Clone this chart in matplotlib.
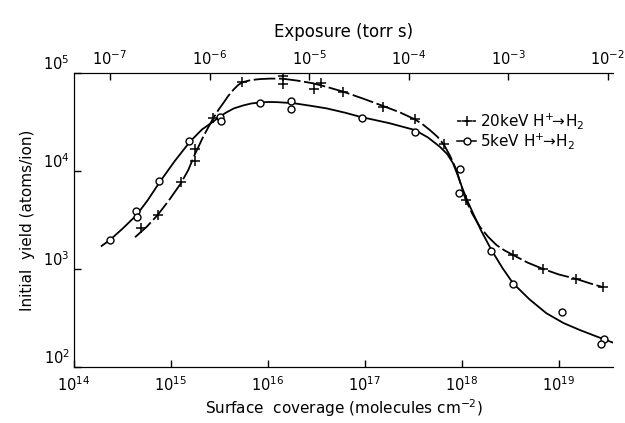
import numpy as np
import matplotlib.pyplot as plt
from matplotlib.lines import Line2D

plt.rcParams['font.family'] = ['DejaVu Sans']
plt.rcParams['mathtext.fontset'] = 'dejavusans'

# measured points, 5 keV H+ -> H2 (circles)
cov_5 = [2.35e14, 4.36e14, 4.50e14, 7.46e14, 1.55e15, 3.20e15, 3.30e15, 8.28e15,
         1.73e16, 1.73e16, 9.25e16, 3.27e17, 9.53e17, 9.38e17, 2.02e18, 3.38e18,
         1.08e19, 2.91e19, 2.75e19]
yld_5 = [1980, 3930, 3410, 7930, 2.01e4, 3.55e4, 3.24e4, 4.93e4,
         5.13e4, 4.23e4, 3.42e4, 2.46e4, 1.04e4, 5980, 1530, 700,
         369, 196, 173]

# measured points, 20 keV H+ -> H2 (crosses)
cov_20 = [4.91e14, 7.29e14, 1.27e15, 1.75e15, 1.75e15, 2.73e15, 5.43e15, 1.42e16,
          1.42e16, 2.98e16, 3.57e16, 5.97e16, 1.55e17, 3.27e17, 6.58e17, 1.10e18,
          3.38e18, 6.89e18, 1.52e19, 2.86e19]
yld_20 = [2640, 3550, 7640, 1.26e4, 1.66e4, 3.42e4, 7.94e4, 9.20e4,
          7.64e4, 6.75e4, 7.76e4, 6.38e4, 4.49e4, 3.34e4, 1.86e4, 5050,
          1390, 1000, 792, 653]

# hand-drawn curves (log10 values)
curve5_logc = [14.285, 14.371, 14.5, 14.646, 14.76, 14.887, 15.04, 15.196, 15.32, 15.436,
               15.5, 15.574, 15.65, 15.746, 15.83, 15.918, 16.0, 16.1, 16.261, 16.45,
               16.605, 16.8, 16.948, 17.25, 17.515, 17.65, 17.773, 17.85, 17.91, 17.96,
               18.013, 18.06, 18.116, 18.2, 18.306, 18.42, 18.529, 18.7, 18.873, 19.05,
               19.216, 19.4, 19.56]
curve5_logy = [3.235, 3.296, 3.41, 3.55, 3.70, 3.889, 4.10, 4.296, 4.42, 4.50,
               4.55, 4.595, 4.635, 4.665, 4.685, 4.695, 4.70, 4.698, 4.688, 4.66,
               4.635, 4.59, 4.55, 4.485, 4.415, 4.34, 4.245, 4.17, 4.076, 3.95,
               3.805, 3.69, 3.568, 3.39, 3.194, 3.01, 2.855, 2.69, 2.55, 2.45,
               2.38, 2.31, 2.251]
curve20_logc = [14.629, 14.75, 14.863, 14.98, 15.103, 15.18, 15.244, 15.333, 15.436,
                15.49, 15.539, 15.59, 15.642, 15.69, 15.735, 15.82, 15.918, 16.03,
                16.151, 16.3, 16.467, 16.62, 16.776, 16.98, 17.189, 17.36, 17.515,
                17.6, 17.67, 17.75, 17.818, 17.88, 17.945, 17.99, 18.041, 18.11,
                18.186, 18.27, 18.357, 18.44, 18.529, 18.68, 18.838, 19.0, 19.182,
                19.32, 19.457]
curve20_logy = [3.323, 3.43, 3.55, 3.70, 3.873, 4.01, 4.161, 4.347, 4.534,
                4.62, 4.687, 4.76, 4.822, 4.87, 4.90, 4.922, 4.933, 4.938,
                4.937, 4.918, 4.89, 4.85, 4.805, 4.735, 4.659, 4.595, 4.524,
                4.47, 4.415, 4.345, 4.262, 4.15, 4.008, 3.86, 3.703, 3.56,
                3.431, 3.33, 3.245, 3.19, 3.143, 3.065, 3.001, 2.945, 2.899,
                2.855, 2.815]

bottom_ticks = [1e14, 1e15, 1e16, 1e17, 1e18, 1e19]
top_ticks = [1e-7, 1e-6, 1e-5, 1e-4, 1e-3, 1e-2]
y_ticks = [1e2, 1e3, 1e4, 1e5]

p_exp = 0.9739
k_exp = -20.996

fig = plt.figure(figsize=(6.25, 4.23), dpi=100)
ax = fig.add_axes([0.1184, 0.1317, 0.8624, 0.6969])

ax.plot(10 ** np.array(curve5_logc), 10 ** np.array(curve5_logy), color='black', lw=1.3)
ax.plot(10 ** np.array(curve20_logc), 10 ** np.array(curve20_logy), color='black', lw=1.3,
        dashes=(12, 2))
ax.plot(cov_5, yld_5, 'o', mfc='white', mec='black', ms=5, mew=1.0)
ax.plot(cov_20, yld_20, '+', color='black', ms=7, mew=1.1)

xmin, xmax = 1e14, 10 ** 19.56
ax.set_xscale('log')
ax.set_yscale('log')
ax.set_xlim(xmin, xmax)
ax.set_ylim(1e2, 1e5)
ax.set_xticks(bottom_ticks)
ax.set_xticklabels([f'$10^{{{int(np.log10(t))}}}$' for t in bottom_ticks], fontsize=10.5)
ax.set_yticks(y_ticks)
ax.set_yticklabels([f'$10^{{{int(np.log10(t))}}}$' for t in y_ticks], fontsize=10.5,
                   va='bottom')
ax.minorticks_off()
ax.tick_params(direction='in', length=5, width=1)
ax.tick_params(axis='x', pad=6)
ax.tick_params(axis='y', pad=3)
ax.spines['right'].set_visible(False)
ax.set_xlabel('Surface  coverage (molecules cm$^{-2}$)', fontsize=11, labelpad=2)
ax.set_ylabel('Initial  yield (atoms/ion)', fontsize=11, labelpad=6)

top = ax.twiny()
top.set_xscale('log')
top.set_xlim(10 ** (p_exp * np.log10(xmin) + k_exp), 10 ** (p_exp * np.log10(xmax) + k_exp))
top.set_xticks(top_ticks)
top.set_xticklabels([f'$10^{{{int(np.log10(t))}}}$' for t in top_ticks], fontsize=10.5)
top.minorticks_off()
top.tick_params(direction='in', length=5, width=1, pad=3)
top.spines['right'].set_visible(False)
top.set_xlabel('Exposure (torr s)', fontsize=12, labelpad=9)

handles = [
    Line2D([], [], color='black', lw=1.1, marker='+', ms=7, mew=1.1, dashes=(3, 2)),
    Line2D([], [], color='black', lw=1.1, marker='o', mfc='white', mec='black', ms=5),
]
labels = ['20keV H$^{+}\\!\\!\\to\\!$H$_2$', '5keV H$^{+}\\!\\!\\to\\!$H$_2$']
ax.legend(handles, labels, loc='upper left', bbox_to_anchor=(0.69, 0.905), frameon=False,
          fontsize=11, handlelength=1.3, handletextpad=0.2, labelspacing=0.0,
          borderpad=0.2)

fig.savefig('out.png', dpi=100, facecolor='white')
